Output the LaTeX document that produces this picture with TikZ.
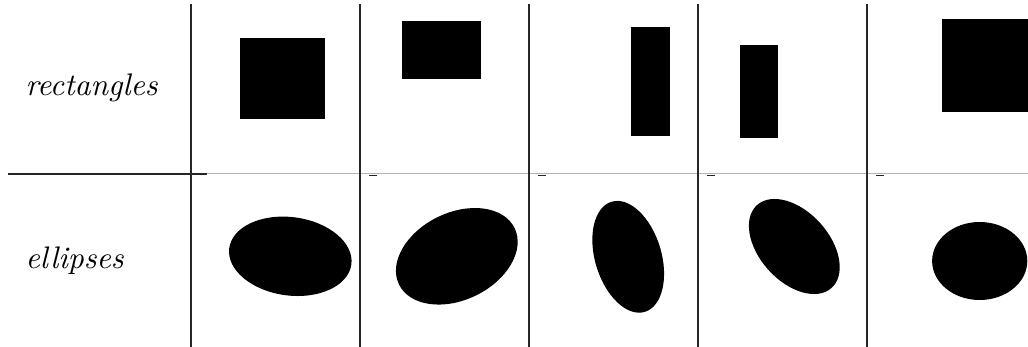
\documentclass[tikz,border=0pt]{standalone}
\usepackage{tikz}
\usetikzlibrary{positioning}
\definecolor{ruleline}{RGB}{180,180,180}

\begin{document}
\begin{tikzpicture}[
  x=1pt, y=-1pt,
  rowlabel/.style={anchor=base west, inner sep=0pt, font=\itshape, scale=3.12},
  sep/.style={line width=1.3pt, black!85},
  blob/.style={fill=black}
]
\useasboundingbox (0,0) rectangle (1028,347);
% row labels
\node[rowlabel] (rectlabel) at (25,96) {rectangles};
\node[rowlabel] (elliplabel) at (25,269) {ellipses};
% grid
\draw[ruleline, line width=1pt] (8,174) -- (1028,174);
\draw[sep] (8,174) -- (207,174);
\foreach \x in {191,360,529,698,867} {
  \draw[sep] (\x,4) -- (\x,347);
}
\foreach \x in {360,529,698,867} {
  \draw[sep] (\x+9,175.5) -- (\x+17,175.5);
}
% rectangles
\fill[blob] (239.7,38) rectangle (324.7,119);
\fill[blob] (402.3,21) rectangle (480.7,78.7);
\fill[blob] (630.7,27) rectangle (670,136.3);
\fill[blob] (740,45.3) rectangle (777.7,138.3);
\fill[blob] (942.3,19) rectangle (1027.7,112.3);
% ellipses
\fill[blob, rotate around={-7.6:(290.3,256.3)}] (290.3,256.3) ellipse [x radius=61.6, y radius=39.2];
\fill[blob, rotate around={26:(456.8,256.3)}] (456.8,256.3) ellipse [x radius=64.3, y radius=43.6];
\fill[blob, rotate around={-73.2:(628.2,256.8)}] (628.2,256.8) ellipse [x radius=57.5, y radius=33.2];
\fill[blob, rotate around={-48:(794.3,246.5)}] (794.3,246.5) ellipse [x radius=55.7, y radius=34.9];
\fill[blob] (979.7,261) ellipse [x radius=47.6, y radius=39];
\end{tikzpicture}
\end{document}
